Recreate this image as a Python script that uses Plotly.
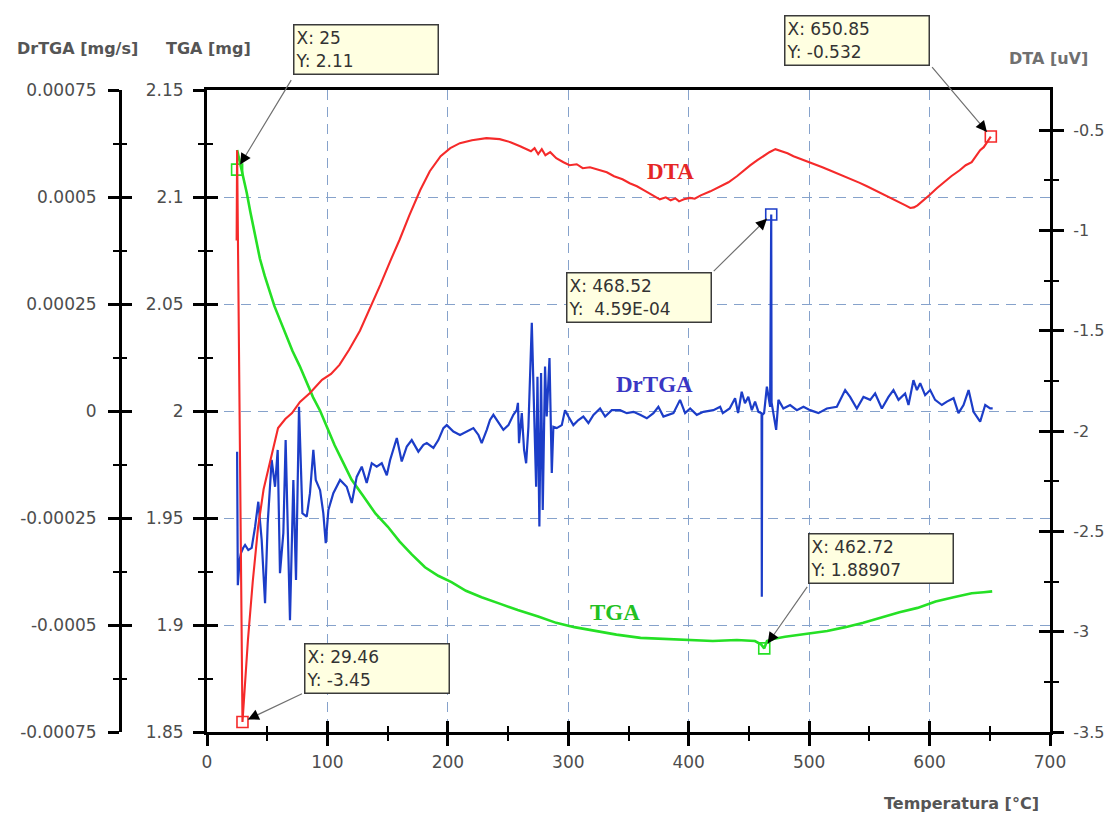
import math
import plotly.graph_objects as go

# ---------------- data ----------------
# TGA [mg]
tga_t = [25, 27, 30, 33, 36, 39, 44, 48, 52, 56,
         61, 66, 71, 77, 82, 88, 94, 100, 106, 113,
         120, 130, 140, 150, 160, 170, 181, 192, 203, 215,
         228, 243, 258, 275, 290, 305, 320, 340, 360, 380,
         400, 420, 440, 455, 460, 462.72, 465, 470, 480, 490,
         500, 515, 530, 545, 560, 575, 590, 605, 620, 635,
         645, 652]
tga_mg = [2.122, 2.117, 2.110, 2.102, 2.093, 2.085, 2.071, 2.063, 2.056, 2.049,
          2.042, 2.035, 2.028, 2.021, 2.0145, 2.0065, 2.000, 1.992, 1.984, 1.976,
          1.968, 1.960, 1.952, 1.946, 1.939, 1.933, 1.927, 1.923, 1.920, 1.916,
          1.913, 1.910, 1.907, 1.904, 1.901, 1.899, 1.8975, 1.8955, 1.894, 1.8935,
          1.893, 1.8925, 1.893, 1.8925, 1.891, 1.8891, 1.8925, 1.8935, 1.8945, 1.8952,
          1.8958, 1.8972, 1.899, 1.901, 1.9035, 1.906, 1.908, 1.911, 1.913, 1.9148,
          1.9153, 1.9157]

# DTA [uV]
dta_t = [24.6, 25.0, 29.46, 34, 38, 42.4, 47, 54, 59, 65,
         70.6, 77.2, 85.5, 95.5, 103, 110, 118, 127, 135, 144,
         152, 160, 168, 177, 185, 194, 202, 210, 220, 232,
         243, 252, 260, 265, 269, 272, 275, 278, 281, 285,
         290, 296, 301, 307, 312, 318, 326, 332, 338, 345,
         351, 357, 363, 370, 376, 381, 385, 389, 392, 396,
         401, 405, 410, 418, 426, 433, 440, 446, 451, 457,
         462, 467, 472, 477, 482, 487, 492, 498, 505, 511,
         517, 523, 530, 536, 542, 548, 555, 561, 567, 572,
         576, 580, 584, 587, 590, 595, 600, 606, 612, 618,
         625, 630, 635, 639, 642, 645, 648, 650.85]
dta_uv = [-1.05, -0.60, -3.45, -3.04, -2.75, -2.48, -2.29, -2.11, -1.985, -1.94,
          -1.91, -1.855, -1.81, -1.745, -1.715, -1.67, -1.595, -1.50, -1.395, -1.27,
          -1.155, -1.045, -0.925, -0.80, -0.705, -0.63, -0.59, -0.565, -0.55, -0.54,
          -0.545, -0.56, -0.58, -0.595, -0.605, -0.59, -0.62, -0.595, -0.625, -0.61,
          -0.64, -0.66, -0.675, -0.67, -0.69, -0.685, -0.70, -0.71, -0.73, -0.745,
          -0.765, -0.78, -0.80, -0.825, -0.845, -0.835, -0.85, -0.84, -0.855, -0.845,
          -0.838, -0.842, -0.825, -0.805, -0.783, -0.76, -0.73, -0.70, -0.676, -0.65,
          -0.63, -0.61, -0.595, -0.605, -0.615, -0.63, -0.641, -0.655, -0.67, -0.685,
          -0.70, -0.715, -0.73, -0.745, -0.763, -0.78, -0.80, -0.82, -0.838, -0.85,
          -0.86, -0.875, -0.888, -0.885, -0.875, -0.85, -0.823, -0.79, -0.76, -0.73,
          -0.70, -0.675, -0.66, -0.625, -0.60, -0.585, -0.56, -0.532]

# DrTGA [mg/s]
drtga_t = [25.0, 25.6, 27.0, 28.2, 30.0, 31.6, 34.3, 37.1, 39.9, 42.6,
           45.4, 48.2, 50.4, 52.0, 53.7, 56.5, 58.7, 60.6, 63.4, 65.3,
           67.0, 68.9, 71.7, 73.9, 76.4, 79.2, 82.8, 85.5, 88.3, 90.3,
           93.9, 96.6, 98.6, 100.8, 104.9, 110.5, 116.0, 120.2, 124.3, 128.5,
           132.6, 136.8, 140.9, 145.1, 149.3, 152.0, 157.6, 161.7, 165.9, 170.0,
           175.5, 179.7, 182.5, 188.0, 192.1, 196.3, 199.1, 204.6, 210.1, 215.7,
           221.2, 225.4, 228.1, 232.3, 235.0, 237.8, 242.0, 246.1, 250.3, 254.4,
           257.2, 258.2, 259.1, 261.4, 263.3, 265.0, 266.9, 269.7, 271.6, 273.3,
           274.4, 276.0, 277.4, 278.8, 280.7, 282.1, 284.4, 286.3, 287.6, 290.4,
           294.6, 297.3, 300.1, 304.2, 308.4, 312.5, 316.7, 320.9, 326.4, 330.6,
           336.1, 343.0, 348.6, 354.1, 359.6, 365.2, 370.7, 374.8, 379.0, 387.3,
           392.8, 397.0, 401.2, 406.7, 412.2, 420.5, 426.1, 428.3, 434.0, 438.5,
           441.0, 444.0, 446.7, 449.5, 452.4, 455.1, 457.9, 460.5, 460.7, 461.0,
           462.6, 464.9, 467.6, 468.52, 468.8, 472.6, 474.5, 478.6, 484.2, 489.8,
           495.3, 500.8, 507.7, 514.7, 523.0, 529.9, 534.0, 539.6, 545.1, 550.7,
           554.8, 560.4, 565.9, 570.0, 574.2, 579.7, 582.5, 586.6, 589.5, 592.2,
           596.3, 600.5, 604.6, 610.2, 614.4, 619.9, 624.0, 628.2, 632.4, 636.5,
           642.0, 646.2, 650.3, 652.4]
drtga_mgs = [-0.95e-4, -4.07e-4, -3.5e-4, -3.32e-4, -3.2e-4, -3.13e-4, -3.25e-4, -3.2e-4, -2.71e-4, -2.12e-4,
             -3.01e-4, -4.49e-4, -2.62e-4, -2.0e-4, -1.14e-4, -1.77e-4, -0.91e-4, -3.79e-4, -2.85e-4, -0.68e-4,
             -2.5e-4, -4.89e-4, -1.61e-4, -3.95e-4, 0.10e-4, -2.39e-4, -2.47e-4, -1.92e-4, -0.91e-4, -1.61e-4,
             -1.85e-4, -2.39e-4, -3.09e-4, -2.31e-4, -1.92e-4, -1.61e-4, -1.77e-4, -2.15e-4, -1.54e-4, -1.30e-4,
             -1.68e-4, -1.22e-4, -1.30e-4, -1.22e-4, -1.50e-4, -1.15e-4, -0.63e-4, -1.18e-4, -0.83e-4, -0.68e-4,
             -0.95e-4, -0.79e-4, -0.75e-4, -0.86e-4, -0.68e-4, -0.40e-4, -0.33e-4, -0.48e-4, -0.56e-4, -0.48e-4,
             -0.40e-4, -0.56e-4, -0.75e-4, -0.44e-4, -0.21e-4, -0.09e-4, -0.28e-4, -0.44e-4, -0.33e-4, -0.09e-4,
             0.02e-4, 0.19e-4, -0.75e-4, -0.05e-4, -0.91e-4, -1.22e-4, -0.37e-4, 2.06e-4, 0.02e-4, -1.77e-4,
             0.80e-4, -2.70e-4, 0.89e-4, -2.31e-4, 1.04e-4, -0.13e-4, 1.24e-4, -1.45e-4, -0.37e-4, -0.40e-4,
             -0.33e-4, 0.02e-4, -0.13e-4, -0.33e-4, -0.21e-4, -0.13e-4, -0.28e-4, -0.09e-4, 0.06e-4, -0.13e-4,
             0.02e-4, 0.02e-4, -0.05e-4, -0.02e-4, -0.09e-4, -0.17e-4, -0.05e-4, 0.10e-4, -0.13e-4, -0.05e-4,
             0.26e-4, -0.05e-4, 0.06e-4, -0.09e-4, -0.02e-4, 0.02e-4, 0.10e-4, -0.05e-4, 0.06e-4, 0.30e-4,
             -0.05e-4, 0.45e-4, 0.18e-4, 0.33e-4, 0.02e-4, 0.22e-4, -0.02e-4, -0.05e-4, -4.34e-4, -0.10e-4,
             -0.05e-4, 0.57e-4, 0.10e-4, 4.59e-4, 0.20e-4, -0.44e-4, 0.26e-4, 0.06e-4, 0.14e-4, 0.02e-4,
             0.10e-4, 0.02e-4, -0.05e-4, 0.06e-4, 0.10e-4, 0.49e-4, 0.33e-4, 0.06e-4, 0.33e-4, 0.26e-4,
             0.41e-4, 0.06e-4, 0.33e-4, 0.49e-4, 0.26e-4, 0.41e-4, 0.14e-4, 0.72e-4, 0.49e-4, 0.65e-4,
             0.37e-4, 0.49e-4, 0.26e-4, 0.14e-4, 0.22e-4, 0.30e-4, -0.05e-4, 0.14e-4, 0.49e-4, -0.02e-4,
             -0.25e-4, 0.14e-4, 0.06e-4, 0.06e-4]

# marked points (datatips)
tga_mark_t = [25, 462.72]
tga_mark_v = [2.1128, 1.88907]
dta_mark_t = [29.46, 650.85]
dta_mark_v = [-3.45, -0.532]
drtga_mark_t = [468.52]
drtga_mark_v = [4.59e-4]
tip_texts = ["X: 25<br>Y: 2.11",
             "X: 650.85<br>Y: -0.532",
             "X: 468.52<br>Y:\u00a0 4.59E-04",
             "X: 462.72<br>Y: 1.88907",
             "X: 29.46<br>Y: -3.45"]

# ticks
x_ticks = [0, 100, 200, 300, 400, 500, 600, 700]
x_tick_labels = ["0", "100", "200", "300", "400", "500", "600", "700"]
x_minor = [50, 150, 250, 350, 450, 550, 650]
tga_ticks = [1.85, 1.9, 1.95, 2.0, 2.05, 2.1, 2.15]
tga_tick_labels = ["1.85", "1.9", "1.95", "2", "2.05", "2.1", "2.15"]
tga_minor = [1.875, 1.925, 1.975, 2.025, 2.075, 2.125]
drtga_ticks = [-0.00075, -0.0005, -0.00025, 0, 0.00025, 0.0005, 0.00075]
drtga_tick_labels = ["-0.00075", "-0.0005", "-0.00025", "0", "0.00025", "0.0005", "0.00075"]
drtga_minor = [-0.000625, -0.000375, -0.000125, 0.000125, 0.000375, 0.000625]
dta_ticks = [-3.5, -3, -2.5, -2, -1.5, -1, -0.5]
dta_tick_labels = ["-3.5", "-3", "-2.5", "-2", "-1.5", "-1", "-0.5"]
dta_minor = [-3.25, -2.75, -2.25, -1.75, -1.25, -0.75]

# ---------------- layout geometry ----------------
W, H = 1108, 815
ML, MR, MT, MB = 20, 58, 90, 83
PW, PH = W - ML - MR, H - MT - MB


def fx(px):
    return (px - ML) / PW


def fy(py):
    return (MT + PH - py) / PH


X_LEFT = fx(207)
DR_POS = fx(120)

TICKFONT = dict(family="DejaVu Sans", size=17, color="#4d4d4d")
RTICKFONT = dict(family="DejaVu Sans", size=16, color="#4d4d4d")
GRIDC = "#86a2cb"
GRIDDASH = "10px,7px"

RED = "#f52a2a"
BLUE = "#1c3dc8"
GREEN = "#25e025"

fig = go.Figure()

# main series
fig.add_trace(go.Scatter(x=tga_t, y=tga_mg, mode="lines", yaxis="y",
                         line=dict(color=GREEN, width=2.6), showlegend=False, hoverinfo="skip"))
fig.add_trace(go.Scatter(x=drtga_t, y=drtga_mgs, mode="lines", yaxis="y2",
                         line=dict(color=BLUE, width=2.2), showlegend=False, hoverinfo="skip"))
fig.add_trace(go.Scatter(x=dta_t, y=dta_uv, mode="lines", yaxis="y3",
                         line=dict(color=RED, width=2.1), showlegend=False, hoverinfo="skip"))

# datatip markers
sq = dict(symbol="square-open", size=11, line=dict(width=1.6))
fig.add_trace(go.Scatter(x=tga_mark_t, y=tga_mark_v, mode="markers", yaxis="y",
                         marker=dict(color=GREEN, **sq), showlegend=False, hoverinfo="skip"))
fig.add_trace(go.Scatter(x=drtga_mark_t, y=drtga_mark_v, mode="markers", yaxis="y2",
                         marker=dict(color=BLUE, **sq), showlegend=False, hoverinfo="skip"))
fig.add_trace(go.Scatter(x=dta_mark_t, y=dta_mark_v, mode="markers", yaxis="y3",
                         marker=dict(color=RED, **sq), showlegend=False, hoverinfo="skip"))

# empty traces that carry the inner halves of the crossing tick marks
for xa, ya in [("x2", "y"), ("x", "y4"), ("x", "y5"), ("x", "y6")]:
    fig.add_trace(go.Scatter(x=[None], y=[None], xaxis=xa, yaxis=ya, mode="lines",
                             showlegend=False, hoverinfo="skip"))

axis_common = dict(showline=True, linecolor="black", linewidth=3, ticks="outside",
                   ticklen=11, tickwidth=3, tickcolor="black", zeroline=False,
                   tickmode="array", automargin=False)
inner_common = dict(showline=False, ticks="inside", ticklen=11, tickwidth=3, tickcolor="black",
                    zeroline=False, showgrid=False, showticklabels=False, tickmode="array",
                    automargin=False)


def minor(vals, side):
    return dict(tickmode="array", tickvals=vals, ticks=side, ticklen=6,
                tickwidth=2, tickcolor="black", showgrid=False)


fig.update_layout(
    width=W, height=H,
    margin=dict(l=ML, r=MR, t=MT, b=MB, autoexpand=False),
    paper_bgcolor="white", plot_bgcolor="white",
    xaxis=dict(domain=[X_LEFT, 1], range=[0, 700], anchor="y", mirror=True,
               tickvals=x_ticks, ticktext=x_tick_labels, minor=minor(x_minor, "outside"),
               showgrid=True, gridcolor=GRIDC, gridwidth=1.4, griddash=GRIDDASH,
               ticklabelstandoff=2, tickfont=TICKFONT, **axis_common),
    xaxis2=dict(domain=[X_LEFT, 1], range=[0, 700], anchor="y", overlaying="x", side="bottom",
                tickvals=x_ticks, minor=minor(x_minor, "inside"), **inner_common),
    yaxis=dict(range=[1.85, 2.15], anchor="x", side="left",
               tickvals=tga_ticks, ticktext=tga_tick_labels, minor=minor(tga_minor, "outside"),
               showgrid=True, gridcolor=GRIDC, gridwidth=1.4, griddash=GRIDDASH,
               ticklabelstandoff=6, tickfont=TICKFONT, **axis_common),
    yaxis2=dict(range=[-0.00075, 0.00075], overlaying="y", anchor="free", position=DR_POS, side="left",
                tickvals=drtga_ticks, ticktext=drtga_tick_labels, minor=minor(drtga_minor, "outside"),
                showgrid=False, ticklabelstandoff=8, tickfont=TICKFONT, **axis_common),
    yaxis3=dict(range=[-3.5, -0.3], overlaying="y", anchor="x", side="right",
                tickvals=dta_ticks, ticktext=dta_tick_labels, minor=minor(dta_minor, "outside"),
                showgrid=False, ticklabelstandoff=6, tickfont=RTICKFONT, **axis_common),
    yaxis4=dict(range=[1.85, 2.15], overlaying="y", anchor="x", side="left",
                tickvals=tga_ticks, minor=minor(tga_minor, "inside"), **inner_common),
    yaxis5=dict(range=[-0.00075, 0.00075], overlaying="y", anchor="free", position=DR_POS, side="left",
                tickvals=drtga_ticks, minor=minor(drtga_minor, "inside"), **inner_common),
    yaxis6=dict(range=[-3.5, -0.3], overlaying="y", anchor="x", side="right",
                tickvals=dta_ticks, minor=minor(dta_minor, "inside"), **inner_common),
)

ann = []
# axis titles
for txt, px, py, col in [("<b>DrTGA [mg/s]</b>", 77, 48, "#555555"),
                         ("<b>TGA [mg]</b>", 208, 48, "#555555"),
                         ("<b>DTA [uV]</b>", 1048, 58, "#707070"),
                         ("<b>Temperatura [°C]</b>", 961, 803, "#555555")]:
    ann.append(dict(xref="paper", yref="paper", x=fx(px), y=fy(py), text=txt, showarrow=False,
                    xanchor="center", yanchor="middle",
                    font=dict(family="DejaVu Sans", size=16, color=col)))

# series labels
SERIF = "Liberation Serif"
ann.append(dict(xref="x", yref="y3", x=384.5, y=-0.708, text="<b>DTA</b>", showarrow=False,
                font=dict(family=SERIF, size=23, color="#e52626")))
ann.append(dict(xref="x", yref="y2", x=372, y=0.61e-4, text="<b>DrTGA</b>", showarrow=False,
                font=dict(family=SERIF, size=23, color="#3a37c4")))
ann.append(dict(xref="x", yref="y", x=339, y=1.906, text="<b>TGA</b>", showarrow=False,
                font=dict(family=SERIF, size=23, color="#22c022")))

# datatip boxes (top-left corner in pixels) and arrow tails relative to the marked point
boxes = [(293, 24), (784, 15), (566, 272), (808, 533), (304, 643)]
points = [(tga_mark_t[0], tga_mark_v[0], "y", 55, -91),
          (dta_mark_t[1], dta_mark_v[1], "y3", -60, -71),
          (drtga_mark_t[0], drtga_mark_v[0], "y2", -59, 58),
          (tga_mark_t[1], tga_mark_v[1], "y", 44, -63),
          (dta_mark_t[0], dta_mark_v[0], "y3", 61, -29)]

for (bx, by), txt in zip(boxes, tip_texts):
    ann.append(dict(xref="paper", yref="paper", x=fx(bx), y=fy(by), xanchor="left", yanchor="top",
                    text=txt, showarrow=False, align="left", width=141, height=46,
                    bgcolor="#ffffe1", bordercolor="#3a3a3a", borderwidth=1.5, borderpad=1,
                    font=dict(family="DejaVu Sans", size=17, color="#333333")))

for x, y, yr, dx, dy in points:
    ann.append(dict(xref="x", yref=yr, x=x, y=y, text="", showarrow=True, ax=dx, ay=dy,
                    arrowhead=0, arrowwidth=1.2, arrowcolor="#707070", standoff=6))
    L = math.hypot(dx, dy)
    ann.append(dict(xref="x", yref=yr, x=x, y=y, text="", showarrow=True,
                    ax=dx / L * 13, ay=dy / L * 13,
                    arrowhead=2, arrowsize=1, arrowwidth=2.2, arrowcolor="black", standoff=6))

fig.update_layout(annotations=ann)

fig.write_html("out.html")
